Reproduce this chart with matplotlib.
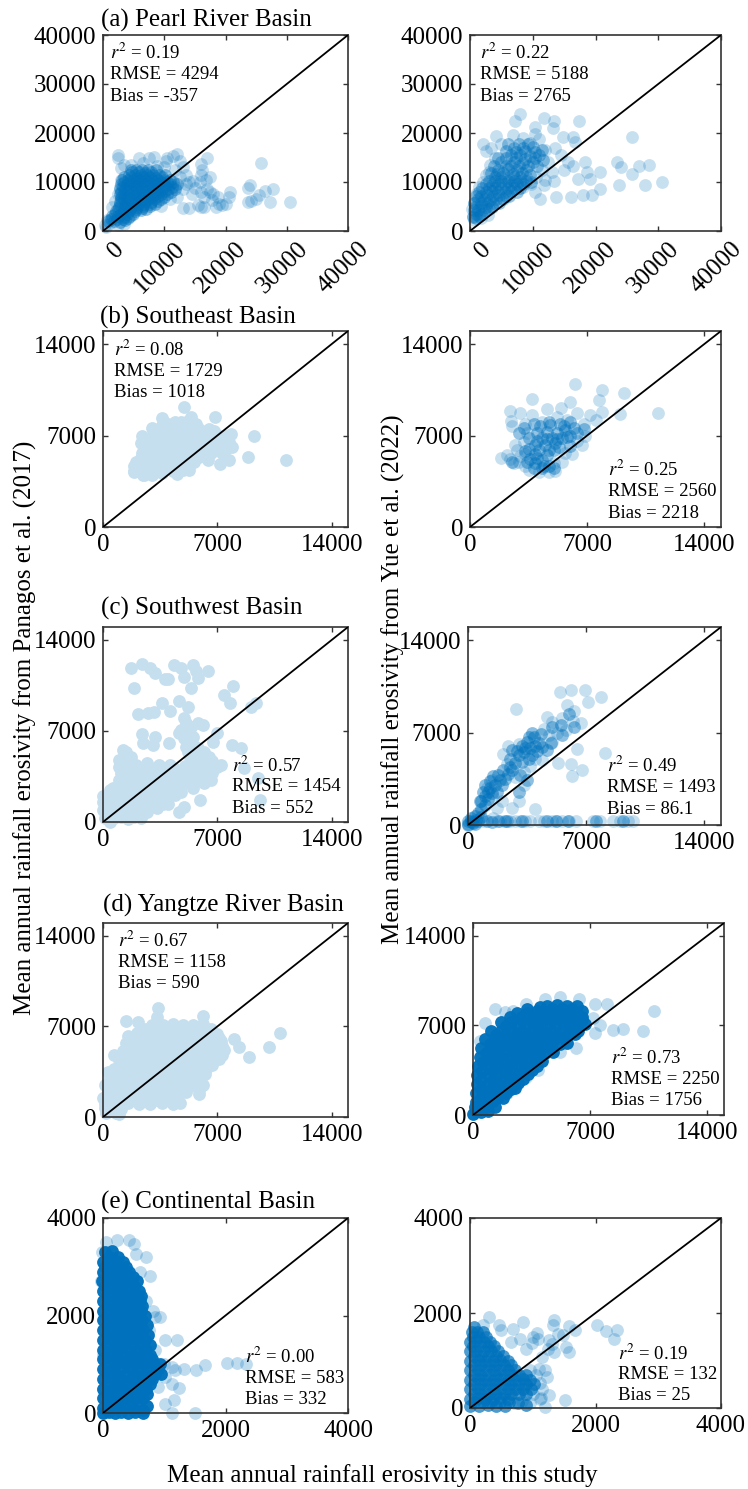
import matplotlib
matplotlib.use('Agg')
import matplotlib.pyplot as plt
from matplotlib.transforms import ScaledTranslation

plt.rcParams['font.family'] = ['Liberation Serif', 'DejaVu Serif']
plt.rcParams['mathtext.fontset'] = 'stix'

W, H = 748, 1489
BLUE = '#0072bd'
PALE = '#c6dfef'

# pearl river, left (this study vs panagos)
a1_pts = [(25800,13800),(24000,9300),(23600,8700),(23600,6000),(24100,6200),(25000,6600),(25500,7300),(26500,8200),(27800,8600),
    (27300,5900),(30500,6000),(20800,7900),(20500,6900),(20000,5500),(19500,5300),(19000,5600),(18800,7000),(18500,4900),
    (17800,6300),(17500,8000),(17000,8500),(16500,5000),(16000,4900),(15500,5300),(14000,4700),(13000,4600),(16800,10500),
    (17500,11000),(17000,14800),(16000,13700),(16200,12500),(16000,11500),(15800,10000),(14700,10200),(14000,10000),
    (13500,9500),(13000,8500),(14500,7500),(15000,8700),(16000,8000),(16500,7000),(18000,7500),(12000,15700),(11500,15300),
    (10500,14900),(10300,14300),(8300,15100),(7500,14800),(5800,14900),(2400,15500),(2500,15000),(3000,12800),(3500,13500),
    (4500,13500),(6500,13800),(8800,13300),(10000,13000),(12500,14200),(13000,13000),(11800,12400),(1500,5000),(2000,6200),
    (2500,7500),(2800,9000),(3000,10500),(1000,1500),(300,1200),(700,2200),(500,900),(1500,2500),(3500,1500),(2500,1300),
    (12500,11000),(13500,11500),(12000,7000),(11000,6500),(9500,5200),(11800,9000)]
a1_core = [(800,2000),(1800,2100),(2800,1900),(3600,2200),(1500,3000),(2500,3100),(3400,2900),(4400,3100),(2200,4000),(3200,3900),
    (4200,4100),(5200,4000),(6200,4200),(2600,5000),(3600,5100),(4600,4900),(5600,5000),(6600,5200),(7600,5100),(2800,6000),
    (3900,6100),(4900,5900),(5900,6000),(6900,6100),(7900,6000),(8900,6200),(3000,7000),(4000,6900),(5000,7100),(6000,7000),
    (7000,7100),(8000,6900),(9000,7100),(10000,7000),(3000,8000),(4100,8100),(5100,7900),(6100,8000),(7100,8100),(8100,7900),
    (9100,8000),(10100,8100),(11100,7900),(3200,9000),(4200,8900),(5200,9100),(6200,9000),(7200,9100),(8200,8900),(9200,9000),
    (10200,9100),(11300,9000),(3400,10000),(4400,10100),(5400,9900),(6400,10000),(7400,10100),(8400,9900),(9400,10000),
    (10400,10100),(11500,10000),(3500,11000),(4600,11100),(5600,10900),(6600,11000),(7600,11100),(8600,10900),(9600,11000),
    (4800,12000),(5800,12100),(6800,11900),(7800,12000),
    (1300,2500),(2300,2500),(3200,2500),(4000,2600),(1900,3500),(2900,3500),(3900,3500),(4900,3500),(2400,4500),(3400,4500),
    (4400,4500),(5400,4500),(6400,4600),(7100,4500),(2700,5500),(3700,5500),(4700,5500),(5700,5500),(6700,5600),(7700,5500),
    (8500,5600),(2900,6500),(3400,6500),(4400,6500),(5400,6500),(6400,6500),(7400,6500),(8400,6500),(9400,6500),(2700,7500),
    (3500,7500),(4500,7500),(5500,7500),(6500,7500),(7500,7500),(8500,7500),(9500,7500),(10500,7500),(2800,8500),(3600,8500),
    (4600,8500),(5600,8500),(6600,8500),(7600,8500),(8600,8500),(9600,8500),(10600,8500),(11700,8500),(2900,9500),(3900,9500),
    (4900,9500),(5900,9500),(6900,9500),(7900,9500),(8900,9500),(9900,9500),(10900,9500),(12000,9500),(3100,10500),(4000,10500),
    (5000,10500),(6000,10500),(7000,10500),(8000,10500),(9000,10500),(10000,10500),(11000,10500),(4200,11500),(5200,11500),
    (6200,11500),(7200,11500),(8200,11500),(9200,11500),(10200,11500),(4600,12500),(5400,12500),(6400,12500),(7400,12500),(8600,12500)]

# pearl river, right (this study vs yue)
a2_pts = [(8030,23860),(7110,22500),(11850,23000),(13380,22500),(13150,20950),(17360,22500),(10300,21150),(10300,19800),(25800,19250),
    (4200,19450),(2070,17760),(2520,16400),(23500,14170),(24100,13000),(26900,13350),(28500,13560),(25800,11660),(23700,9290),
    (30600,9970),(27900,9420),(20650,12000),(18350,14030),(18600,12000),(19100,10640),(20650,8610),(19500,7250),(18000,7250),
    (16060,6920),(13770,6920),(11100,6580),(14900,19120),(16400,19120),(16800,18100),(15680,14030),(16440,13360),(17200,10640),
    (13380,10300),(11850,9290),(10320,7930),(3300,17000),(4000,15000),(3200,13500),(5000,17800),(6800,19500),(8500,19000),
    (9500,18000),(11000,18700),(12000,16500),(13500,17000),(14500,15500),(12500,14000),(11500,12500),(13000,12000),(15000,12500),
    (10500,11000),(12000,10500),(500,3000),(300,4500),(700,5800),(1000,7500),(2000,10000),(2500,11500),(3000,12000),(1500,9000),
    (9000,11000),(9800,9500),(8500,9000),(2800,3200),(600,2200),(1800,2600)]
a2_core = [(1000,3500),(1800,3400),(800,5000),(1700,5100),(2600,4900),(3500,5000),(1200,6500),(2200,6600),(3200,6400),(4200,6500),
    (5200,6600),(1500,8000),(2500,7900),(3500,8100),(4500,8000),(5500,7900),(6500,8100),(7500,8000),(2500,9500),(3500,9400),
    (4500,9600),(5500,9500),(6500,9400),(7500,9600),(8500,9500),(4000,11000),(5000,11100),(6000,10900),(7000,11000),(8000,11100),
    (4500,12500),(6000,12600),(7500,12400),(9000,12500),(5000,14000),(7000,14100),(8500,13900),(10000,14000),(6500,15500),
    (8000,15600),(9500,15400),(11000,15500),(7000,17000),(8500,16900),(10000,17100),
    (500,2800),(1000,2700),(1500,3000),(600,4200),(1300,4300),(2200,4200),(3000,4400),(700,5700),(1700,5800),(2700,5700),(3700,5800),
    (4600,5800),(1000,7200),(1700,7200),(2700,7300),(3700,7200),(4700,7300),(5700,7200),(6200,7100),(1900,8800),(3000,8700),(4000,8800),
    (5000,8700),(6000,8800),(7000,8700),(8000,8800),(3000,10200),(4000,10300),(5000,10200),(6000,10300),(7000,10200),(8000,10300),
    (9000,10200),(9800,10000),(3300,11800),(4300,11700),(5300,11800),(6800,11700),(8300,11800),(9500,11500),(3800,13300),(5700,13200),
    (6600,13300),(7800,13200),(9300,13300),(10700,13200),(4500,14800),(5800,14900),(7300,14800),(8800,14700),(10300,14800),(11700,14500),
    (5800,16300),(7300,16200),(8800,16300),(10300,16200),(11500,16500),(6000,17800),(7800,17800),(9200,17700)]

# southeast
b1_pts = [(4950,9150),(3630,8360),(5390,8430),(6850,8430),(9260,6950),(11200,5100),(8900,5370),(7820,7150),(7880,6130),(7730,5100),
    (7150,4850),(1875,4200),(2460,3960),(4500,4090),(5240,4340),(1900,4300),(2500,4400),(3100,4300),(3700,4400),(4300,4300),(4900,4400),
    (2000,5000),(2600,4900),(3200,5000),(3800,5100),(4400,5000),(5000,4900),(5600,5000),(2400,5700),(3000,5600),(3600,5700),(4200,5800),
    (4800,5700),(5400,5600),(6000,5700),(6600,5700),(2300,6400),(2900,6300),(3500,6400),(4100,6500),(4700,6400),(5300,6300),(5900,6400),
    (6500,6400),(7000,6300),(2400,7000),(3000,7000),(3600,7100),(4200,7000),(4800,6900),(5400,7000),(6000,7100),(6600,7000),(7100,7000),
    (3000,7600),(3500,7600),(4100,7500),(4700,7600),(5300,7700),(5900,7500),(6500,7500),(3700,8100),(4400,8000),(5200,8100),(5700,7900),
    (2200,4700),(2800,4600),(3400,4700),(4000,4700),(4600,4700),(5200,4600),(1900,4650),(2300,5300),(2900,5300),(3500,5350),(4100,5400),
    (4700,5350),(5300,5300),(5900,5350),(6400,5100),(2600,6050),(3200,6000),(3800,6050),(4400,6150),(5000,6050),(5600,6000),(6200,6050),
    (6800,6050),(2700,6700),(3300,6700),(3900,6800),(4500,6700),(5100,6650),(5700,6700),(6300,6700),(6850,6700),(3300,7300),(3900,7300),
    (4500,7250),(5000,7300),(5600,7350),(6200,7300),(6800,7350),(7300,6600),(4000,7850),(4800,8000),(5500,7700),(2500,4000),(3000,3950),
    (3600,4100),(7300,5700),(7500,6000),(7500,7000),(7700,6500)]
b2_pts = [(6290,10950),(7860,10450),(9230,10250),(11230,8720),(8940,8670),(7710,9740),(3710,9790),(2370,8850),(6000,9600),(5430,9100),
    (1860,5290),(2430,8080),(5000,4900),(3290,4650),(3000,8700),(3700,8600),(4600,9000),(5200,8400),(6400,8700),(7200,8600),(7900,8800),
    (7500,8200),(6800,7900),(2500,7700),(3300,7900),(4300,8000),(5800,8200),(2400,5200),(2900,5000),(2200,5500),(2800,5900),(3200,6500),
    (3400,7200),(2700,6300),(3300,5600),(3500,4400),(4100,4200),(4700,4200),(5100,4300),(5500,5000),(6100,5600),(6700,6300),(6900,7000),
    (6400,6600),(5700,5700),(3000,5400),(2600,4900)]
b2_core = [(4000,7200),(4600,7300),(5200,7200),(5700,7400),(6200,7600),(4300,6800),(4900,6800),(5500,6800),(6000,7000),(3900,6300),
    (4500,6300),(5100,6400),(3900,5600),(4300,5100),(4600,5500),(4700,4700),(3600,5200),(5000,5900),
    (3500,6800),(4200,7700),(4800,7800),(5400,7900),(6000,8000),(4000,6600),(4600,6700),(5200,6700),(5800,6900),(6400,7200),(4100,5900),
    (4700,5900),(5300,6100),(3500,6000),(3900,4900),(4400,4700),(5000,4500),(3300,5800),(2900,7200),(4300,4500),(4000,5300),(3400,5000),
    (3800,4500),(2500,5000),(6800,7500),(6000,6200),(3200,7600),(3800,7900),(5600,7700),(4700,8000)]

# southwest
c1_pts = [(1730,11840),(2400,12170),(2900,11840),(3190,11450),(3780,10990),(3980,10990),(4365,12090),(4800,11840),(4950,11190),
    (5540,12090),(5680,11580),(5830,11060),(6420,11630),(1875,10340),(5390,10340),(7970,10470),(7380,9800),(7790,9130),(9350,9190),
    (9050,8880),(3630,9190),(4660,9340),(5190,8880),(2170,8310),(2750,8360),(3130,8440),(4130,8570),(4950,7980),(4800,7080),(5100,7590),
    (5390,7330),(4660,6820),(4950,6430),(5240,6820),(5540,6560),(5830,7590),(6120,7460),(5100,5790),(5540,5920),(5830,5660),(2400,6770),
    (2460,6100),(3190,6560),(3050,5920),(4070,6100),(7000,6820),(6710,6170),(7880,5920),(8470,5660),(8610,4120),(9490,3420),(9640,1720),
    (5920,1670),(4950,1160),(4660,770),(1430,5400),(1000,4760),(410,2440),(250,1410),(0,900),(100,300),(700,300),(1500,200),(2300,300),
    (100,800),(700,800),(1300,800),(2000,900),(2700,800),(100,1400),(800,1400),(1500,1300),(2200,1400),(3000,1500),(3700,1400),(4000,1400),
    (300,2000),(1000,2000),(1700,2100),(2400,2000),(3100,1900),(3800,2000),(4400,2100),(600,2600),(1300,2600),(2000,2700),(2700,2600),
    (3400,2500),(4100,2600),(4800,2700),(5500,2600),(1000,3200),(1700,3200),(2400,3300),(3100,3200),(3800,3100),(4500,3200),(5200,3300),
    (5900,3200),(6600,3200),(1100,3800),(1900,3800),(2600,3900),(3300,3800),(4000,3700),(4700,3800),(5400,3900),(6100,3800),(6700,3800),
    (1300,4400),(2000,4400),(2700,4500),(3400,4400),(4100,4400),(5000,4300),(5700,4400),(6400,4500),(7200,4400),(1300,5000),(1700,5000),
    (5300,5000),(5800,5100),(6500,5000),
    (500,1100),(1100,1100),(1800,1100),(2500,1100),(3300,1100),(400,1700),(1300,1700),(2000,1700),(2700,1700),(3400,1700),(3900,1700),
    (700,2300),(1300,2300),(2000,2300),(2700,2300),(3400,2300),(4100,2300),(4800,2300),(1300,2900),(2000,2900),(2700,2900),(3400,2850),
    (4100,2900),(4800,2950),(5500,2900),(6200,3000),(1500,3500),(2200,3500),(2900,3500),(3600,3450),(4300,3500),(5000,3500),(5700,3500),
    (6400,3500),(1600,4100),(2300,4100),(3000,4100),(3700,4100),(4400,4100),(5100,4100),(5800,4100),(6500,4150),(7000,4200),(1600,4700),
    (1000,4200),(1200,5500),(5500,4700),(6000,4700),(6700,4700),(5200,5400),(5600,5400),(6200,5400),(400,300),(1100,400),(400,1000),(400,0),
    (0,1500),(0,2000),(1900,400)]
c2_pts = [(5430,10080),(6080,10260),(6930,10260),(7870,9700),(7130,9330),(2830,8750),(5890,9080),(4670,8190),(8150,5470),(6450,5720),
    (5320,4660),(6080,4610),(6740,4160),(6170,3710),(2600,1260),(3960,1180),(1700,1260),(5000,7800),(5600,8100),(6200,7900),(6700,7700),
    (5800,7200),(5300,7000),(4800,6800),(6300,8600),(4500,7300),(5000,6300),(4400,4900),(2400,6000),(2100,5400),(2300,4600),(3000,6100),
    (3300,3000),(2800,3600),(3300,4000),(1400,3400),(1100,2800),(1500,2100),(2000,1800),(3700,4500),(4000,5000),(3000,1800),(1500,500),
    (1900,320),(2500,300),(2800,330),(3100,310),(3400,330),(3700,310),(4200,320),(4500,330),(5000,310),(5300,330),(5600,320),(6000,310),
    (6400,320),(7400,330),(7800,320),(8600,310),(9000,330),(9500,320),(9800,310),(900,300)]
c2_core = [(0,100),(150,300),(300,150),(500,400),(800,600),(1100,300),(1400,250),(2200,280),(700,1800),(1000,2200),(1300,2800),(900,2500),
    (1600,3000),(1900,3400),(1500,3700),(1200,2000),(2000,3000),(2400,3900),(2800,4700),(3300,5500),(3700,5800),(4100,5600),(3500,6300),
    (3900,6700),(4200,6200),(3000,5300),(1000,1500),(2500,4400),
    (200,500),(0,300),(400,700),(600,900),(800,1200),(800,1800),(1200,2500),(1000,3000),(1400,2400),(1700,2500),(1800,3800),(1300,3300),
    (2200,3500),(2600,4200),(2100,4200),(2500,5000),(2900,5600),(2600,5700),(3200,4800),(3600,5000),(3800,5300),(4000,6000),(4400,5900),
    (3200,6000),(4300,6900),(3800,7000),(4700,5700),(3400,5800),(3600,6700),(5000,7400),(5500,7600),(6000,8400),(5600,6800),(6300,7400),
    (4900,6200),(3000,2500),(3500,3400),(3100,3800),(0,0),(400,100),(600,300),(250,200),(1800,300),(2300,330),(3200,320),(4700,320),(5900,330),
    (5200,300),(7600,310),(9200,320)]

# yangtze
d1_pts = [(3340,8400),(1380,7450),(2170,7320),(6120,7810),(10810,6520),(10140,5450),(8960,4670),(8030,6010),(8320,5450),(200,300),(800,300),
    (1000,200),(100,1000),(800,1000),(1500,1100),(2200,1000),(2900,1000),(3600,1100),(4300,1000),(4700,1100),(200,1600),(800,1700),
    (1500,1600),(2200,1700),(2900,1600),(3600,1700),(4300,1600),(4500,1450),(300,2300),(1000,2300),(1700,2400),(2400,2300),(3100,2300),
    (3800,2400),(4500,2300),(5200,2300),(5900,2100),(400,3000),(1100,3000),(1800,3100),(2500,3000),(3200,3000),(3900,3100),(4600,3000),
    (5300,3000),(6000,3000),(700,3700),(1400,3700),(2100,3800),(2800,3700),(3500,3700),(4200,3800),(4900,3700),(5600,3700),(6300,3700),
    (1000,4400),(1700,4400),(2400,4500),(3100,4400),(3800,4400),(4500,4500),(5200,4400),(5900,4400),(6600,4400),(7100,4500),(1200,5100),
    (1900,5100),(2600,5200),(3300,5100),(4000,5100),(4700,5200),(5400,5100),(6100,5100),(6800,5100),(7400,5200),(1600,5800),(2300,5800),
    (3000,5900),(3700,5800),(4400,5800),(5100,5900),(5800,5800),(6500,5800),(7200,5900),(2100,6500),(2800,6500),(3500,6600),(4200,6500),
    (4900,6500),(5600,6600),(6300,6500),(7000,6400),(3000,7100),(3700,7100),(4300,7200),(4900,7100),(5500,7100),(6100,7200),(3300,7700),
    (150,700),(500,650),(1100,650),(500,1300),(1150,1350),(1850,1350),(2550,1350),(3250,1350),(3950,1350),(4600,1350),(500,2000),(1150,2000),
    (1850,2050),(2550,2000),(3250,2000),(3950,2050),(4650,2000),(5100,1950),(5900,1750),(650,2650),(1350,2650),(2050,2750),(2750,2650),
    (3450,2650),(4150,2750),(4850,2650),(5550,2650),(6100,2500),(750,3350),(1450,3350),(2150,3450),(2850,3350),(3550,3350),(4250,3450),
    (4950,3350),(5650,3350),(6250,3300),(1050,4050),(1750,4050),(2450,4150),(3150,4050),(3850,4050),(4550,4150),(5250,4050),(5950,4050),
    (6650,4050),(1400,4750),(2050,4750),(2750,4850),(3450,4750),(4150,4750),(4850,4850),(5550,4750),(6250,4750),(6950,4750),(7300,4800),
    (1750,5450),(2450,5450),(3150,5550),(3850,5450),(4550,5450),(5250,5550),(5950,5450),(6650,5450),(7300,5500),(2200,6150),(2900,6150),
    (3600,6250),(4300,6150),(5000,6150),(5700,6250),(6400,6150),(7100,6100),(2600,6800),(3300,6850),(4000,6900),(4600,6800),(5200,6900),
    (5900,6800),(6600,6800),(3400,7100),(1500,6300),(1400,5700),(700,4800),(300,3500),(100,2500),(0,1500)]
d2_pts = [(10820,8140),(10160,6580),(8970,6710),(8370,6630),(8030,8710),(7310,8650),(7310,6420),(6180,5200),(5180,4940),(3900,3510),
    (3190,2990),(2620,2470),(2050,1690),(1340,8320),(1910,8060),(3190,8710),(4330,9100),(5180,9230),(6320,9100),(700,7200),(400,5800),
    (2400,8100),(7200,7600),(7600,7000)]
d2_core = [(200,300),(500,250),(900,300),(150,1000),(700,1000),(1200,1100),(200,1700),(800,1700),(1400,1800),(2000,1700),(250,2400),(900,2400),
    (1500,2500),(2100,2400),(2700,2500),(250,3100),(900,3100),(1500,3200),(2100,3100),(2700,3100),(3300,3200),(300,3800),(900,3800),(1500,3900),
    (2100,3800),(2700,3800),(3300,3900),(3800,3800),(400,4500),(1000,4500),(1600,4600),(2200,4500),(2800,4500),(3400,4600),(4000,4500),(500,5200),
    (1100,5200),(1700,5300),(2300,5200),(2900,5200),(3500,5300),(4100,5200),(4700,5200),(700,5900),(1300,5900),(1900,6000),(2500,5900),(3100,5900),
    (3700,6000),(4300,5900),(4900,5900),(5500,6000),(1100,6600),(1700,6600),(2300,6700),(2900,6600),(3500,6600),(4100,6700),(4700,6600),(5300,6600),
    (5900,6700),(6300,6600),(1700,7300),(2300,7300),(2900,7400),(3500,7300),(4100,7300),(4700,7400),(5300,7300),(5900,7300),(6500,7400),(2600,8000),
    (3200,8000),(3800,8100),(4400,8000),(5000,8000),(5600,8100),(6200,8000),(4400,8500),(5000,8600),(5600,8500),(6200,8500),
    (300,650),(800,650),(1300,650),(500,1350),(1000,1350),(1500,1400),(1800,1300),(500,2050),(1100,2050),(1700,2100),(2300,2050),(2500,2100),
    (500,2750),(1200,2750),(1800,2800),(2400,2750),(3000,2800),(550,3450),(1200,3450),(1800,3500),(2400,3450),(3000,3450),(3500,3500),(600,4150),
    (1200,4150),(1800,4250),(2400,4150),(3000,4150),(3600,4250),(4100,4200),(800,4850),(1300,4850),(1900,4950),(2500,4850),(3100,4850),(3700,4950),
    (4300,4850),(4800,4900),(1000,5550),(1600,5550),(2200,5650),(2800,5550),(3400,5550),(4000,5650),(4600,5550),(5200,5550),(5600,5600),(1400,6250),
    (2000,6250),(2600,6350),(3200,6250),(3800,6250),(4400,6350),(5000,6250),(5600,6250),(6100,6350),(2000,6950),(2600,6950),(3200,7050),(3800,6950),
    (4400,6950),(5000,7050),(5600,6950),(6200,6950),(6700,7100),(2200,7650),(2900,7650),(3500,7750),(4100,7650),(4700,7650),(5300,7750),(5900,7650),
    (6500,7650),(3200,8300),(4700,8300),(5300,8300),(5900,8300),(0,100),(100,600),(4000,8400),(6500,8100)]

# continental
e1_pts = [(2020,1025),(2180,1025),(2340,1010),(1670,980),(1520,890),(1320,910),(1125,940),(1010,1490),(1200,1490),(850,1970),(930,1970),(810,2100),
    (770,2820),(695,3190),(540,3270),(420,3540),(230,3540),(500,3470),(1240,520),(1125,600),(1010,190),(1160,260),(1125,0),(1500,0),(890,530),
    (1010,740),(700,2300),(750,1700),(850,1300),(600,2900),(50,3500),(-20,3300),(0,1200),(-30,2700),(1000,1000),(1180,880),(0,500)]
e1_core = [(40,3300),(150,3320),(0,3100),(110,3090),(220,3110),(320,3100),(0,2900),(100,2890),(210,2910),(320,2900),(430,2900),(-20,2700),(100,2710),
    (210,2690),(320,2700),(430,2710),(550,2700),(0,2500),(110,2490),(220,2510),(340,2500),(460,2500),(590,2500),(0,2300),(120,2310),(240,2290),
    (360,2300),(480,2310),(600,2300),(0,2100),(120,2090),(240,2110),(360,2100),(490,2100),(620,2100),(0,1900),(120,1910),(250,1890),(380,1900),
    (510,1910),(640,1900),(0,1700),(130,1690),(260,1710),(390,1700),(520,1700),(660,1700),(0,1500),(130,1510),(260,1490),(400,1500),(540,1510),
    (680,1500),(0,1300),(140,1290),(280,1310),(420,1300),(560,1300),(700,1300),(0,1100),(140,1110),(280,1090),(420,1100),(560,1110),(700,1100),
    (800,1100),(0,900),(150,890),(300,910),(450,900),(600,900),(750,890),(900,900),(0,700),(150,710),(300,690),(450,700),(600,710),(800,700),
    (0,500),(140,490),(280,510),(420,500),(560,500),(700,500),(0,300),(130,310),(260,290),(390,300),(520,310),(650,300),(0,100),(120,90),(240,110),
    (360,100),(500,90),(650,60),(0,-10),(200,-10),(400,0),
    (90,3200),(250,3200),(40,3000),(160,3000),(270,3000),(380,3000),(50,2800),(160,2800),(270,2800),(380,2800),(490,2800),(40,2600),(160,2600),
    (270,2600),(390,2600),(510,2600),(60,2400),(170,2400),(300,2400),(420,2400),(540,2400),(620,2400),(60,2200),(180,2200),(300,2200),(420,2200),
    (550,2200),(640,2200),(60,2000),(180,2000),(310,2000),(430,2000),(560,2000),(680,2000),(60,1800),(190,1800),(320,1800),(450,1800),(590,1800),
    (720,1800),(70,1600),(190,1600),(330,1600),(460,1600),(600,1600),(730,1600),(70,1400),(210,1400),(350,1400),(490,1400),(630,1400),(770,1400),
    (70,1200),(210,1200),(350,1200),(490,1200),(630,1200),(770,1200),(70,1000),(220,1000),(370,1000),(520,1000),(670,1000),(830,1000),(930,1000),
    (70,800),(220,800),(370,800),(520,800),(680,800),(850,800),(950,800),(70,600),(210,600),(350,600),(490,600),(630,600),(770,600),(65,400),(200,400),
    (330,400),(460,400),(590,400),(720,400),(60,200),(190,200),(320,200),(440,200),(590,180),(720,150),(100,30),(300,30),(520,20),(650,0)]
e2_pts = [(310,1920),(840,1810),(470,1740),(690,1670),(1340,1850),(1320,1740),(1570,1720),(1680,1640),(2030,1740),(2160,1620),(2350,1640),(2300,1460),
    (1070,1570),(1090,1460),(990,1360),(1490,1530),(1260,1430),(1530,1290),(1340,1180),(1150,1080),(1570,1180),(1510,170),(1110,180),(1260,270),
    (1220,660),(1110,520),(960,100),(1190,14),(1000,1500),(900,1250),(800,1450),(1400,1550),(1250,1250),(1300,1350),(950,800),(1100,820),(1200,800),
    (1050,700),(1150,400),(1000,300),(830,150),(700,100),(1130,220),(650,1400),(500,1650),(200,1750)]
e2_core = [(30,1600),(110,1610),(200,1590),(0,1400),(100,1410),(220,1390),(320,1400),(0,1200),(100,1190),(220,1210),(340,1200),(450,1200),(0,1000),
    (120,1010),(240,990),(360,1000),(480,1010),(600,990),(0,800),(120,790),(240,810),(360,800),(480,790),(600,810),(720,800),(0,600),(120,610),(240,590),
    (360,600),(480,610),(600,590),(720,600),(840,610),(950,600),(0,400),(120,390),(240,410),(360,400),(480,390),(600,410),(720,400),(840,390),(980,400),
    (0,200),(120,210),(240,190),(360,200),(480,210),(600,190),(0,50),(140,40),(280,60),(420,50),(560,40),
    (60,1700),(150,1500),(50,1500),(260,1500),(50,1300),(160,1300),(280,1300),(390,1300),(60,1100),(170,1100),(290,1100),(410,1100),(530,1100),(60,900),
    (180,900),(300,900),(420,900),(540,900),(660,900),(60,700),(180,700),(300,700),(420,700),(540,700),(660,700),(780,700),(900,700),(60,500),(180,500),
    (300,500),(420,500),(540,500),(660,500),(780,500),(900,500),(1020,500),(60,300),(180,300),(300,300),(420,300),(540,300),(660,300),(780,300),(900,300),
    (60,120),(200,120),(340,120),(480,120),(620,120),(760,100),(900,60)]

lim_a = 40000
lim_b = 15000
lim_e = 4000
ticks_a = [0, 10000, 20000, 30000, 40000]
ticks_b = [0, 7000, 14000]
ticks_e = [0, 2000, 4000]

r2_vals = ['0.19', '0.22', '0.08', '0.25', '0.57', '0.49', '0.67', '0.73', '0.00', '0.19']
rmse_vals = ['4294', '5188', '1729', '2560', '1454', '1493', '1158', '2250', '583', '132']
bias_vals = ['-357', '2765', '1018', '2218', '552', '86.1', '590', '1756', '332', '25']

fig = plt.figure(figsize=(W/100, H/100), dpi=100)

def make_panel(box, lim, ticks, pts, core, color, fringe_alpha, core_alpha, stat_i, stat_pos):
    l, t, r, b = box
    ax = fig.add_axes([l/W, 1-b/H, (r-l)/W, (b-t)/H])
    x, y = zip(*pts)
    ax.scatter(x, y, s=85, color=color, alpha=fringe_alpha, linewidths=0, clip_on=False, zorder=2)
    if core:
        cx, cy = zip(*core)
        ax.scatter(cx, cy, s=85, color=color, alpha=core_alpha, linewidths=0, clip_on=False, zorder=2)
    ax.plot([0, lim], [0, lim], color='black', lw=1.3, zorder=3)
    ax.set_xlim(0, lim)
    ax.set_ylim(0, lim)
    ax.set_xticks(ticks)
    ax.set_yticks(ticks)
    ax.tick_params(direction='in', top=True, right=True, length=3.5, width=1, labelsize=18, color='#333333', pad=5)
    for s in ax.spines.values():
        s.set_linewidth(1.2)
        s.set_color('#333333')
    ax.text(stat_pos[0], stat_pos[1], r'$\mathit{r}^{2}$ = ' + r2_vals[stat_i], transform=ax.transAxes, fontsize=13.5, va='center', zorder=5)
    ax.text(stat_pos[0], stat_pos[1]-0.11, 'RMSE = ' + rmse_vals[stat_i], transform=ax.transAxes, fontsize=13.5, va='center', zorder=5)
    ax.text(stat_pos[0], stat_pos[1]-0.22, 'Bias = ' + bias_vals[stat_i], transform=ax.transAxes, fontsize=13.5, va='center', zorder=5)
    return ax

def rotate_xlabels(ax):
    # slanted labels sit a bit right of their ticks in the original
    ax.tick_params(axis='x', pad=3)
    shift = ScaledTranslation(10/100, -3/100, fig.dpi_scale_trans)
    for lab in ax.get_xticklabels():
        lab.set_rotation(45)
        lab.set_ha('right')
        lab.set_rotation_mode('anchor')
        lab.set_transform(lab.get_transform() + shift)

ax = make_panel((103, 35, 348, 231), lim_a, ticks_a, a1_pts, a1_core, BLUE, 0.22, 0.42, 0, (0.03, 0.908))
rotate_xlabels(ax)
ax = make_panel((470, 35, 721, 231), lim_a, ticks_a, a2_pts, a2_core, BLUE, 0.22, 0.4, 1, (0.04, 0.908))
rotate_xlabels(ax)
make_panel((103, 331, 348, 527), lim_b, ticks_b, b1_pts, None, PALE, 1, 1, 2, (0.045, 0.905))
make_panel((470, 331, 721, 527), lim_b, ticks_b, b2_pts, b2_core, BLUE, 0.22, 0.42, 3, (0.55, 0.29))
make_panel((103, 627, 348, 822), lim_b, ticks_b, c1_pts, None, PALE, 1, 1, 4, (0.527, 0.29))
make_panel((468, 627, 721, 825), lim_b, ticks_b, c2_pts, c2_core, BLUE, 0.22, 0.45, 5, (0.55, 0.30))
make_panel((103, 923, 348, 1117), lim_b, ticks_b, d1_pts, None, PALE, 1, 1, 6, (0.06, 0.907))
make_panel((473, 923, 724, 1115), lim_b, ticks_b, d2_pts, d2_core, BLUE, 0.25, 0.97, 7, (0.55, 0.297))
make_panel((103, 1218, 348, 1413), lim_e, ticks_e, e1_pts, e1_core, BLUE, 0.25, 0.97, 8, (0.58, 0.287))
make_panel((470, 1218, 721, 1408), lim_e, ticks_e, e2_pts, e2_core, BLUE, 0.25, 0.7, 9, (0.59, 0.284))

def px_text(x, y, s, **kw):
    fig.text(x/W, 1-y/H, s, **kw)

px_text(101, 20, '(a) Pearl River Basin', fontsize=18, va='center')
px_text(100, 317, '(b) Southeast Basin', fontsize=18, va='center')
px_text(101, 608, '(c) Southwest Basin', fontsize=18, va='center')
px_text(103, 905, '(d) Yangtze River Basin', fontsize=18, va='center')
px_text(101, 1202, '(e) Continental Basin', fontsize=18, va='center')

px_text(25, 728, 'Mean annual rainfall erosivity from Panagos et al. (2017)', fontsize=18, rotation=90, ha='center', va='center')
px_text(393, 679, 'Mean annual rainfall erosivity from Yue et al. (2022)', fontsize=18, rotation=90, ha='center', va='center')
px_text(382, 1476, 'Mean annual rainfall erosivity in this study', fontsize=18, ha='center', va='center')

fig.savefig('out.png', dpi=100)
